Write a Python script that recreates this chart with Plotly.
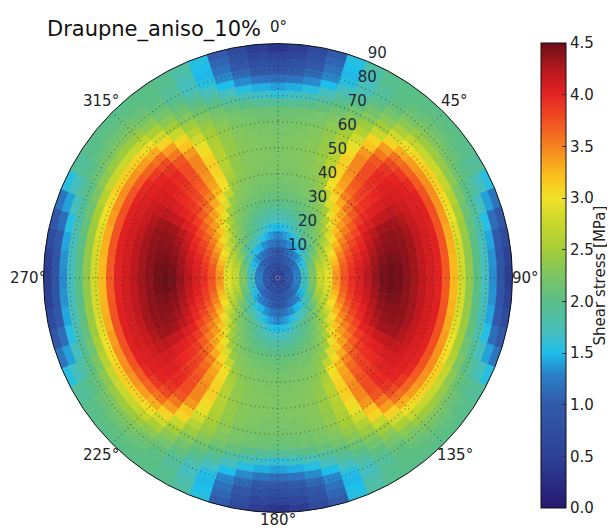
import math
import plotly.graph_objects as go

TITLE = "Draupne_aniso_10%"
CBAR_TITLE = "Shear stress [MPa]"
DIP_STEP = 3
AZ_STEP = 5
DIP_TICKS = [10, 20, 30, 40, 50, 60, 70, 80, 90]
DIP_LABEL_AZ = 22.5
AZ_TICKS = [0, 45, 90, 135, 180, 225, 270, 315]
AZ_LABELS = ["0°", "45°", "90°", "135°", "180°", "225°", "270°", "315°"]
AZ_LABEL_R = [96.5, 96, 95, 96, 93, 96, 96, 96]
CB_TICKS = [0.0, 0.5, 1.0, 1.5, 2.0, 2.5, 3.0, 3.5, 4.0, 4.5]

# Rows: dip band 0-3, 3-6, ... 87-90. Columns: azimuth 0, 5, ... 90 (one quadrant).
STRESS = [
[.5,.5,.5,.5,.5,.5,.5,.5,.5,.5,.5,.5,.5,.5,.5,.5,.5,.5,.5],
[.7,.7,.71,.72,.74,.76,.78,.8,.82,.84,.86,.88,.9,.92,.94,.96,.98,1.0,1.0],
[.85,.86,.88,.9,.93,.96,1.0,1.03,1.06,1.09,1.12,1.15,1.18,1.21,1.24,1.26,1.28,1.3,1.3],
[.95,.97,1.0,1.05,1.1,1.15,1.2,1.25,1.3,1.36,1.42,1.48,1.54,1.6,1.65,1.69,1.72,1.74,1.75],
[1.15,1.17,1.2,1.26,1.33,1.4,1.47,1.53,1.58,1.66,1.75,1.85,1.95,2.05,2.13,2.2,2.25,2.28,2.3],
[1.3,1.33,1.38,1.45,1.55,1.63,1.7,1.78,1.86,1.94,2.05,2.17,2.3,2.42,2.52,2.6,2.67,2.72,2.75],
[1.5,1.53,1.58,1.66,1.78,1.88,1.97,2.05,2.12,2.2,2.3,2.42,2.55,2.65,2.72,2.8,2.87,2.92,2.95],
[1.7,1.72,1.76,1.82,1.9,1.98,2.06,2.15,2.25,2.35,2.5,2.68,2.85,3.02,3.15,3.25,3.35,3.42,3.45],
[1.85,1.87,1.9,1.95,2.0,2.07,2.15,2.25,2.38,2.6,2.85,3.05,3.25,3.38,3.5,3.6,3.68,3.72,3.75],
[1.98,2.0,2.02,2.06,2.1,2.16,2.24,2.35,2.55,2.95,3.2,3.35,3.5,3.62,3.73,3.82,3.88,3.93,3.95],
[2.08,2.1,2.12,2.15,2.18,2.23,2.32,2.48,2.95,3.2,3.38,3.52,3.68,3.8,3.9,3.97,4.03,4.07,4.08],
[2.15,2.16,2.18,2.2,2.24,2.3,2.42,2.85,3.15,3.35,3.52,3.68,3.82,3.95,4.02,4.1,4.15,4.2,4.22],
[2.2,2.2,2.22,2.25,2.28,2.36,2.7,3.05,3.32,3.55,3.7,3.85,4.0,4.1,4.18,4.24,4.3,4.33,4.35],
[2.22,2.23,2.25,2.27,2.32,2.45,3.0,3.25,3.5,3.7,3.85,3.95,4.05,4.2,4.28,4.35,4.4,4.45,4.47],
[2.25,2.25,2.27,2.3,2.36,2.55,3.05,3.35,3.62,3.8,3.92,4.02,4.15,4.3,4.36,4.4,4.45,4.5,4.5],
[2.25,2.26,2.28,2.3,2.38,2.6,3.1,3.4,3.7,3.85,3.96,4.06,4.18,4.32,4.38,4.4,4.43,4.47,4.48],
[2.25,2.26,2.28,2.32,2.4,2.62,3.12,3.45,3.75,3.9,3.98,4.08,4.2,4.3,4.35,4.37,4.38,4.38,4.38],
[2.25,2.26,2.28,2.32,2.42,2.62,3.12,3.48,3.78,3.95,4.05,4.1,4.18,4.24,4.28,4.3,4.3,4.3,4.3],
[2.22,2.23,2.26,2.3,2.4,2.6,3.05,3.48,3.78,3.97,4.04,4.08,4.12,4.15,4.18,4.2,4.2,4.2,4.2],
[2.2,2.21,2.24,2.28,2.38,2.56,2.95,3.4,3.72,3.9,4.0,4.03,4.06,4.08,4.1,4.1,4.1,4.1,4.1],
[2.16,2.18,2.2,2.25,2.34,2.5,2.8,3.2,3.55,3.78,3.88,3.97,4.02,4.03,4.03,4.03,4.03,4.02,4.02],
[2.1,2.12,2.16,2.2,2.28,2.42,2.62,3.08,3.38,3.58,3.65,3.7,3.74,3.76,3.75,3.74,3.72,3.7,3.7],
[1.9,1.93,2.0,2.08,2.18,2.3,2.46,2.75,3.1,3.3,3.38,3.42,3.45,3.42,3.38,3.32,3.28,3.25,3.25],
[1.6,1.66,1.75,1.88,2.03,2.16,2.3,2.5,2.8,3.02,3.1,3.13,3.12,3.05,2.98,2.9,2.84,2.8,2.8],
[1.4,1.45,1.55,1.7,1.87,2.02,2.18,2.34,2.55,2.72,2.75,2.76,2.72,2.62,2.52,2.45,2.4,2.38,2.38],
[1.15,1.2,1.33,1.5,1.7,1.88,2.05,2.2,2.34,2.45,2.46,2.42,2.35,2.25,2.15,2.08,2.02,2.0,2.0],
[.95,1.0,1.12,1.32,1.55,1.74,1.93,2.08,2.2,2.28,2.28,2.23,2.14,2.03,1.92,1.82,1.74,1.7,1.7],
[.75,.8,.95,1.18,1.48,1.7,1.9,2.02,2.1,2.15,2.14,2.09,2.0,1.87,1.7,1.54,1.42,1.35,1.33],
[.55,.62,.8,1.1,1.5,1.8,1.95,2.0,2.03,2.05,2.05,2.0,1.92,1.7,1.4,1.15,.98,.9,.88],
[.35,.45,.65,1.0,1.55,1.85,1.95,2.0,2.0,2.0,2.0,1.98,1.9,1.55,1.2,.95,.7,.5,.45],
]

COLORS = [
    (0.0, "rgb(38,24,112)"), (0.5, "rgb(45,65,150)"), (1.0, "rgb(50,90,170)"),
    (1.3, "rgb(42,130,200)"), (1.5, "rgb(30,190,235)"), (1.7, "rgb(70,190,190)"),
    (2.0, "rgb(90,190,135)"), (2.25, "rgb(125,197,100)"), (2.5, "rgb(165,205,55)"),
    (2.75, "rgb(200,215,45)"), (3.0, "rgb(240,225,40)"), (3.2, "rgb(250,195,30)"),
    (3.5, "rgb(245,130,30)"), (3.8, "rgb(240,70,35)"), (4.0, "rgb(230,35,35)"),
    (4.2, "rgb(190,25,30)"), (4.5, "rgb(110,15,25)"),
]
VMAX = 4.5
colorscale = [[v / VMAX, c] for v, c in COLORS]

FIG_W, FIG_H = 607, 520
PX = lambda x: (x - 8) / FIG_W
PY = lambda y: 1 - (y - 8) / FIG_H
CX, CY, RADIUS = 278.0, 278.0, 234.5

# Near the pole the wedges are wider, so they do not crowd into a moire.
INNER_STEPS = {0: 30, 1: 15, 2: 15, 3: 10, 4: 10}
thetas, bases, vals, widths = [], [], [], []
for i, row in enumerate(STRESS):
    step = INNER_STEPS.get(i, AZ_STEP)
    for az in range(0, 360, step):
        a = az % 180
        fold = a if a <= 90 else 180 - a
        thetas.append(az)
        bases.append(i * DIP_STEP)
        widths.append(step + (3 if i in INNER_STEPS else 0.4))
        vals.append(row[fold // AZ_STEP])

fig = go.Figure()
fig.add_trace(go.Barpolar(
    theta=thetas, base=bases, r=[DIP_STEP + 0.2] * len(vals), width=widths,
    marker=dict(
        color=vals, colorscale=colorscale, cmin=0, cmax=VMAX, line_width=0,
        colorbar=dict(
            thickness=25, thicknessmode="pixels", len=465, lenmode="pixels",
            x=PX(541), xanchor="left", xpad=0, y=PY(275.5), yanchor="middle", ypad=0,
            outlinecolor="#111", outlinewidth=1,
            tickvals=CB_TICKS, ticktext=[f"{t:.1f}" for t in CB_TICKS],
            ticks="inside", ticklen=4, tickcolor="#333",
            tickfont=dict(family="DejaVu Sans", size=15, color="#222"),
        ),
    ),
    hoverinfo="skip", showlegend=False,
))

GRID = "rgba(40,40,40,0.48)"
ring_theta = list(range(0, 361, 2))
for d in DIP_TICKS[:-1]:
    fig.add_trace(go.Scatterpolar(theta=ring_theta, r=[d] * len(ring_theta), mode="lines",
                                  line=dict(color=GRID, width=1.4, dash="1px 3.5px"),
                                  hoverinfo="skip", showlegend=False))
for az in AZ_TICKS:
    fig.add_trace(go.Scatterpolar(theta=[az, az], r=[0, 90], mode="lines",
                                  line=dict(color=GRID, width=1.4, dash="1px 3.5px"),
                                  hoverinfo="skip", showlegend=False))

fig.add_trace(go.Scatterpolar(
    theta=[DIP_LABEL_AZ] * len(DIP_TICKS), r=DIP_TICKS, mode="text",
    text=[str(t) for t in DIP_TICKS], textposition="top right", cliponaxis=False,
    textfont=dict(family="DejaVu Sans", size=15, color="#1c2b3a"),
    hoverinfo="skip", showlegend=False))

annotations = [
    dict(text=TITLE, x=PX(45), y=PY(30), xref="paper", yref="paper",
         xanchor="left", yanchor="middle", showarrow=False,
         font=dict(family="DejaVu Sans", size=21, color="#111")),
    dict(text=CBAR_TITLE, x=PX(599), y=PY(275.5), xref="paper", yref="paper",
         xanchor="center", yanchor="middle", showarrow=False, textangle=-90,
         font=dict(family="DejaVu Sans", size=15, color="#222")),
]
for az, lab, rr in zip(AZ_TICKS, AZ_LABELS, AZ_LABEL_R):
    px = CX + RADIUS * rr / 90 * math.sin(math.radians(az))
    py = CY - RADIUS * rr / 90 * math.cos(math.radians(az))
    annotations.append(dict(text=lab, x=PX(px), y=PY(py), xref="paper", yref="paper",
                            xanchor="center", yanchor="middle", showarrow=False,
                            font=dict(family="DejaVu Sans", size=15, color="#222")))

fig.update_layout(
    width=FIG_W, height=FIG_H, autosize=False,
    margin=dict(l=0, r=0, t=0, b=0),
    paper_bgcolor="white", plot_bgcolor="white",
    polar=dict(
        domain=dict(x=[PX(43.5), PX(512.5)], y=[PY(512.5), PY(43.5)]),
        bgcolor="white", barmode="overlay",
        angularaxis=dict(
            rotation=90, direction="clockwise", showticklabels=False, showgrid=False, ticks="",
            linecolor="#111", linewidth=1, layer="above traces",
        ),
        radialaxis=dict(
            range=[0, 90], showticklabels=False, showgrid=False, showline=False, ticks="",
        ),
    ),
    annotations=annotations,
)
fig.write_html("out.html")
